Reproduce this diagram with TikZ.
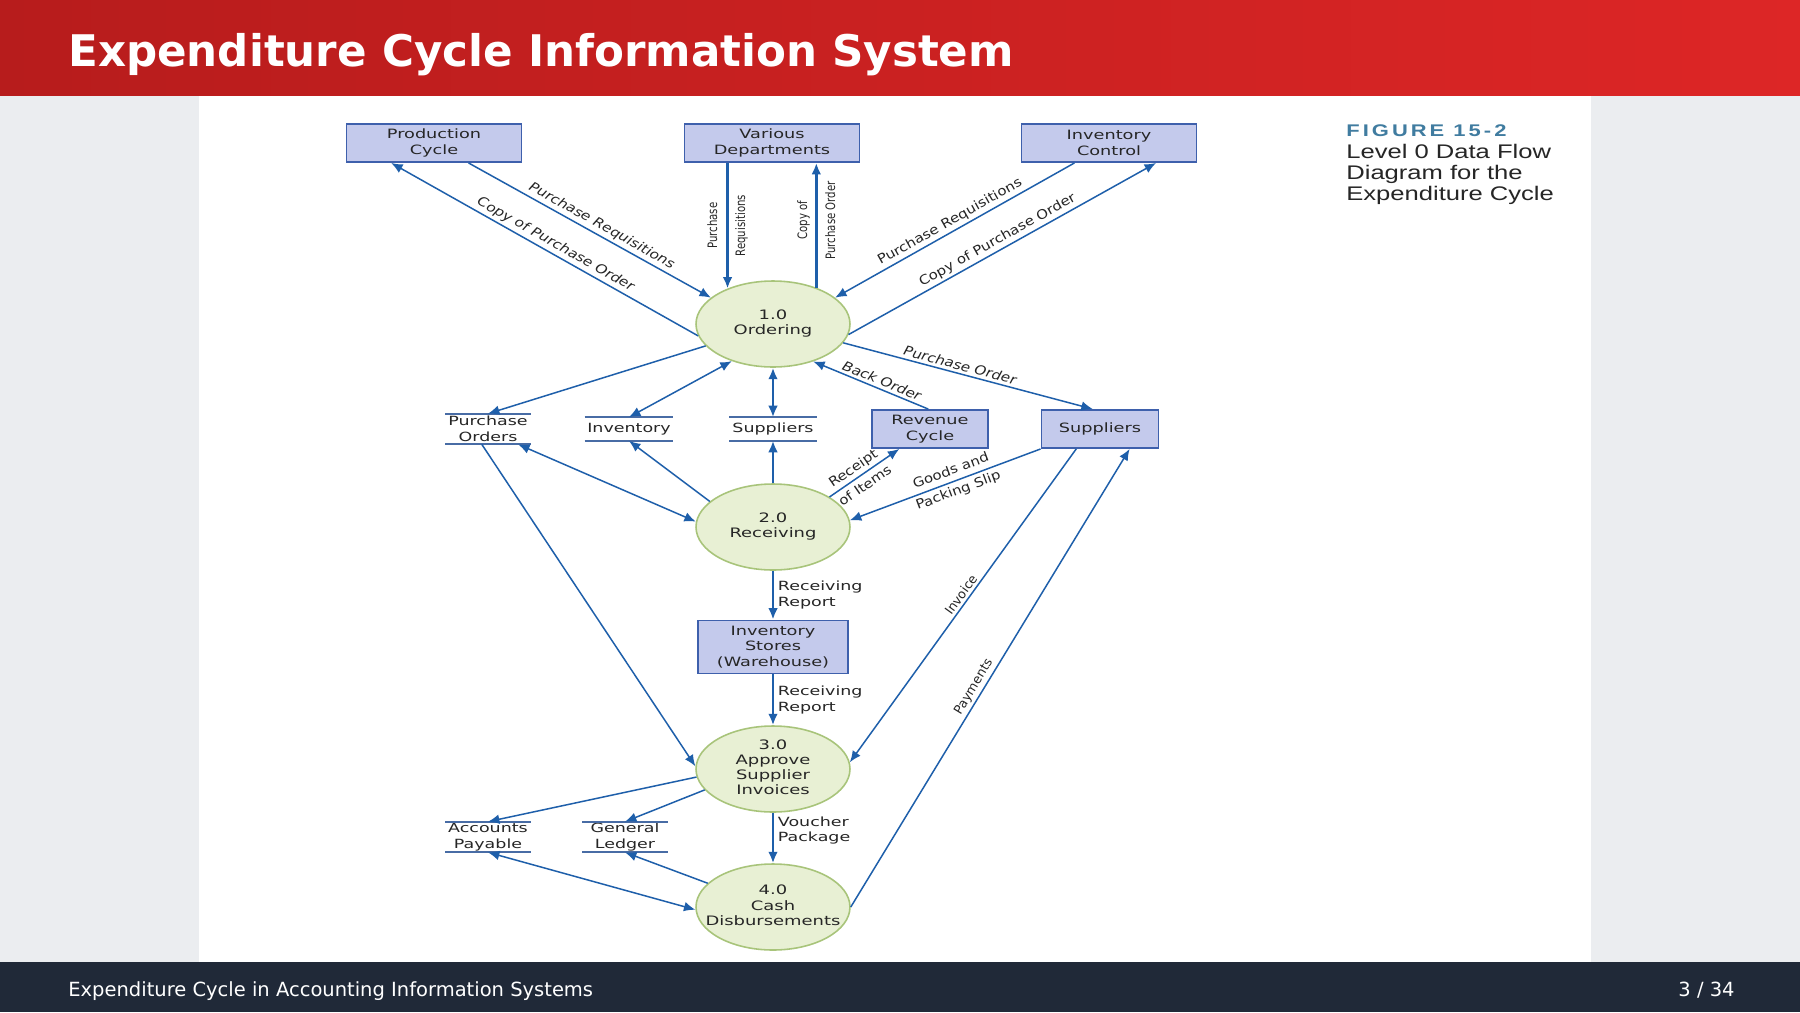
\documentclass[tikz,border=0pt]{standalone}
\usepackage{fontspec}
\setmainfont{DejaVu Sans}
\newfontfamily\dfdfont[FakeStretch=1.38]{DejaVu Sans}
\newfontfamily\slfont[FakeStretch=1.15]{DejaVu Sans}
\newfontfamily\vertfont[FakeStretch=0.78]{DejaVu Sans}
\newfontfamily\capfont[FakeStretch=1.3]{Liberation Sans}
\usetikzlibrary{positioning, arrows.meta, shapes.geometric}

\definecolor{hdrleft}{RGB}{183,28,28}
\definecolor{hdrright}{RGB}{221,38,38}
\definecolor{footbg}{RGB}{32,41,56}
\definecolor{slidebg}{RGB}{235,237,240}
\definecolor{flowblue}{RGB}{30,95,170}
\definecolor{extfill}{RGB}{196,202,236}
\definecolor{extline}{RGB}{62,96,172}
\definecolor{procfill}{RGB}{232,240,212}
\definecolor{procline}{RGB}{168,196,122}
\definecolor{storeblue}{RGB}{72,108,165}
\definecolor{dfdtext}{RGB}{38,38,38}
\definecolor{figblue}{RGB}{64,124,160}

\newcommand{\proctxt}[1]{\makebox[0pt]{\begin{tabular}{@{}c@{}}#1\end{tabular}}}

\begin{document}
\begin{tikzpicture}[x=0.02cm, y=-0.02cm,
    >={Latex[length=6.5pt,width=5.5pt]},
    ext/.style={draw=extline, fill=extfill, line width=1.1pt, rectangle, minimum width=3.5cm, minimum height=0.76cm, inner sep=0pt, align=center, text=dfdtext, font=\dfdfont\fontsize{7.3pt}{8.9pt}\selectfont},
    proc/.style={draw=procline, fill=procfill, line width=0.9pt, ellipse, minimum width=3.08cm, minimum height=1.72cm, inner sep=0pt, text=dfdtext, font=\dfdfont\fontsize{7.4pt}{8.6pt}\selectfont},
    store/.style={rectangle, minimum width=1.7cm, minimum height=0.6cm, inner sep=0pt, align=center, text=dfdtext, font=\dfdfont\fontsize{7.2pt}{8.8pt}\selectfont},
    storeline/.style={draw=storeblue, line width=1.1pt},
    flow/.style={draw=flowblue, line width=0.85pt, ->},
    dflow/.style={flow, <->},
    vflow/.style={flow, line width=1.6pt},
    lab/.style={text=dfdtext, inner sep=1.5pt, font=\slfont\fontsize{7.4pt}{8.5pt}\selectfont},
    labi/.style={lab, font=\slfont\fontsize{7.4pt}{8.5pt}\selectfont\itshape},
    steeplab/.style={text=dfdtext, inner sep=1.5pt, font=\fontsize{7.2pt}{8.5pt}\selectfont},
    slab/.style={text=dfdtext, inner sep=0pt, align=center, font=\slfont\fontsize{7.4pt}{12pt}\selectfont},
    vlab/.style={text=dfdtext, inner sep=0pt, align=center, font=\vertfont\fontsize{7.4pt}{16pt}\selectfont},
    hlab/.style={text=dfdtext, inner sep=2pt, align=left, font=\dfdfont\fontsize{7.2pt}{8.8pt}\selectfont},
]
\useasboundingbox (0,0) rectangle (1800,1012);
\fill[slidebg] (0,0) rectangle (1800,1012);
\fill[white] (199,95) rectangle (1591,962);
\shade[left color=hdrleft, right color=hdrright] (0,0) rectangle (1800,95);
\fill[footbg] (0,962) rectangle (1800,1012);

\node[anchor=base west, inner sep=0pt, text=white, font=\fontsize{24.8pt}{30pt}\selectfont\bfseries] (title) at (68,66) {Expenditure Cycle Information System};
\node[anchor=base west, inner sep=0pt, text=white, font=\fontsize{11.1pt}{13pt}\selectfont] (foot) at (68,996) {Expenditure Cycle in Accounting Information Systems};
\node[anchor=base east, inner sep=0pt, text=white, font=\fontsize{11.1pt}{13pt}\selectfont] (page) at (1735,996) {3 / 34};

\node[anchor=base west, inner sep=0pt, text=figblue, font={\capfont\bfseries\fontsize{9.6pt}{11pt}\selectfont\addfontfeature{LetterSpace=18}}] (fig) at (1346,136) {FIGURE 15-2};
\node[anchor=base west, inner sep=0pt, text=dfdtext, font=\capfont\fontsize{11.2pt}{12pt}\selectfont] (cap1) at (1346,158) {Level 0 Data Flow};
\node[anchor=base west, inner sep=0pt, text=dfdtext, font=\capfont\fontsize{11.2pt}{12pt}\selectfont] (cap2) at (1346,179) {Diagram for the};
\node[anchor=base west, inner sep=0pt, text=dfdtext, font=\capfont\fontsize{11.2pt}{12pt}\selectfont] (cap3) at (1346,200) {Expenditure Cycle};

\node[ext] (pc) at (434,143) {Production\\Cycle};
\node[ext] (vd) at (772,143) {Various\\Departments};
\node[ext] (ic) at (1109,143) {Inventory\\Control};
\node[proc] (o1) at (773,324) {\proctxt{1.0\\Ordering}};
\node[store] (po) at (488,429) {Purchase\\Orders};
\node[store, minimum width=1.76cm, minimum height=0.46cm] (inv) at (629,429) {Inventory};
\node[store, minimum width=1.74cm, minimum height=0.46cm] (sups) at (773,429) {Suppliers};
\node[ext, minimum width=2.32cm] (rc) at (930,429) {Revenue\\Cycle};
\node[ext, minimum width=2.34cm] (sup) at (1100,429) {Suppliers};
\node[proc] (o2) at (773,527) {\proctxt{2.0\\Receiving}};
\node[ext, minimum width=3cm, minimum height=1.06cm] (ist) at (773,647) {Inventory\\Stores\\(Warehouse)};
\node[proc] (o3) at (773,769) {\proctxt{3.0\\Approve\\Supplier\\Invoices}};
\node[proc] (o4) at (773,907) {\proctxt{4.0\\Cash\\Disbursements}};
\node[store] (ap) at (488,837) {Accounts\\Payable};
\node[store] (gl) at (625,837) {General\\Ledger};

\foreach \s in {po,inv,sups,ap,gl}
  \draw[storeline] (\s.north west) -- (\s.north east) (\s.south west) -- (\s.south east);

\draw[flow] (pc.-30) -- node[labi, sloped, above, pos=.53] {Purchase Requisitions} (o1.157);
\draw[flow] (o1.189) -- node[labi, sloped, above, pos=.48] {Copy of Purchase Order} (pc.-155);
\draw[vflow] (o1.142 |- vd.south) -- node[vlab, rotate=90] {Purchase\\Requisitions} (o1.142);
\draw[vflow] (o1.40) -- node[vlab, rotate=90, pos=.54] {Copy of\\Purchase Order} (o1.40 |- vd.south);
\draw[flow] (ic.-150) -- node[lab, sloped, above, pos=.5] {Purchase Requisitions} (o1.23);
\draw[flow] (o1.-8.5) -- node[lab, sloped, above, pos=.5] {Copy of Purchase Order} (ic.-23);
\draw[flow] (o1.-15.7) -- node[labi, sloped, above, pos=.46] {Purchase Order} (sup.110);
\draw[flow] (rc.95) -- node[labi, sloped, above, pos=.43] {Back Order} (o1.-43);
\draw[flow] (o1.-162) -- (po.north);
\draw[dflow] (o1.-138) -- (inv.north);
\draw[vflow, <->] (o1.south) -- (sups.north);
\draw[flow] (o2.158) -- (inv.south);
\draw[vflow] (o2.north) -- (sups.south);
\draw[dflow] (po.-27) -- (o2.176);
\draw[flow] (o2.28) -- node[slab, sloped, pos=.42] {Receipt\\of Items} (rc.-147);
\draw[flow] (sup.south west) -- node[slab, sloped, pos=.45] {Goods and\\Packing Slip} (o2.5);
\draw[vflow] (o2.south) -- node[hlab, right] {Receiving\\Report} (ist.north);
\draw[vflow] (ist.south) -- node[hlab, right] {Receiving\\Report} (o3.north);
\draw[flow] (po.-112) -- (o3.178);
\draw[flow] (sup.-140) -- node[steeplab, sloped, above, pos=.48] {Invoice} (o3.5);
\draw[vflow] (o3.south) -- node[hlab, right, pos=.35] {Voucher\\Package} (o4.north);
\draw[flow] (o3.186) -- (ap.north);
\draw[flow] (o3.-163) -- (gl.north);
\draw[flow] (o4.160) -- (gl.south);
\draw[dflow] (ap.south) -- (o4.182);
\draw[flow] (o4.east) -- node[steeplab, sloped, above, pos=.47] {Payments} (sup.-34);
\end{tikzpicture}
\end{document}
